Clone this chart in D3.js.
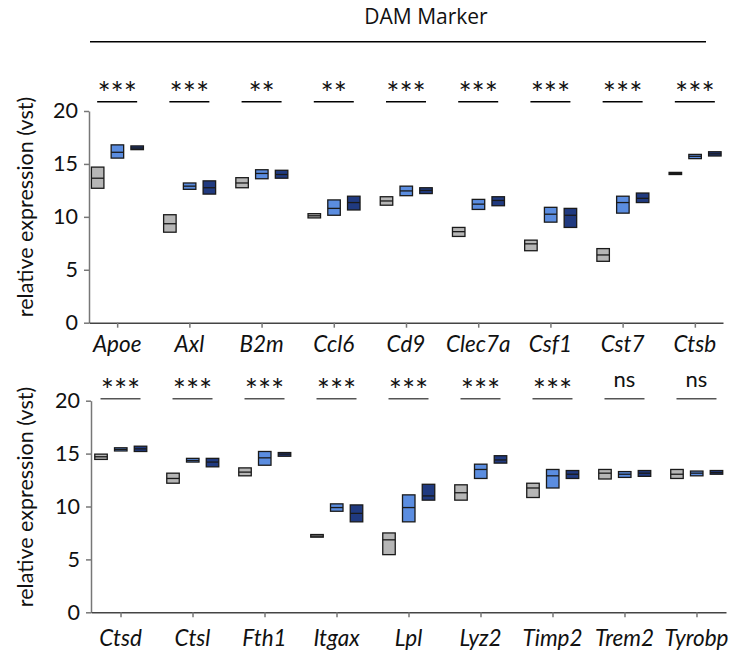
<!DOCTYPE html>
<html>
<head>
<meta charset="utf-8">
<script src="https://cdn.jsdelivr.net/npm/d3@7"></script>
<style>
  body { margin: 0; background: #fff; }
  svg { font-family: Lato, "Open Sans", sans-serif; }
</style>
</head>
<body>
<script>
// values are [min, median, max] per gene
const topGenes = ['Apoe', 'Axl', 'B2m', 'Ccl6', 'Cd9', 'Clec7a', 'Csf1', 'Cst7', 'Ctsb']
const topSig = ['***', '***', '**', '**', '***', '***', '***', '***', '***']
const topCtrl = [[12.7, 13.65, 14.7], [8.55, 9.35, 10.2], [12.75, 13.2, 13.7], [9.9, 10.1, 10.3], [11.1, 11.5, 11.9],
  [8.15, 8.6, 9.0], [6.8, 7.45, 7.8], [5.8, 6.4, 7.0], [14.0, 14.1, 14.2]]
const topMid = [[15.55, 16.1, 16.8], [12.6, 12.9, 13.2], [13.6, 14.1, 14.45], [10.15, 10.8, 11.6], [12.0, 12.45, 12.9],
  [10.7, 11.2, 11.65], [9.5, 10.25, 10.9], [10.35, 11.35, 11.95], [15.5, 15.72, 15.9]]
const topHigh = [[16.35, 16.5, 16.7], [12.15, 12.75, 13.4], [13.65, 14.0, 14.4], [10.65, 11.35, 11.95], [12.2, 12.5, 12.75],
  [11.05, 11.55, 11.9], [9.0, 10.15, 10.8], [11.35, 11.75, 12.25], [15.75, 15.95, 16.15]]

const bottomGenes = ['Ctsd', 'Ctsl', 'Fth1', 'Itgax', 'Lpl', 'Lyz2', 'Timp2', 'Trem2', 'Tyrobp']
const bottomSig = ['***', '***', '***', '***', '***', '***', '***', 'ns', 'ns']
const bottomCtrl = [[14.45, 14.7, 14.95], [12.2, 12.65, 13.15], [12.9, 13.25, 13.65], [7.1, 7.2, 7.35], [5.45, 6.85, 7.5],
  [10.6, 11.3, 12.05], [10.85, 11.75, 12.2], [12.6, 13.15, 13.5], [12.65, 13.05, 13.5]]
const bottomMid = [[15.25, 15.4, 15.55], [14.2, 14.35, 14.55], [13.9, 14.6, 15.2], [9.55, 9.9, 10.25], [8.55, 9.9, 11.1],
  [12.65, 13.5, 14.0], [11.75, 12.9, 13.5], [12.75, 13.05, 13.3], [12.9, 13.15, 13.35]]
const bottomHigh = [[15.2, 15.45, 15.7], [13.75, 14.2, 14.55], [14.75, 14.95, 15.1], [8.55, 9.35, 10.15], [10.6, 11.0, 12.1],
  [14.1, 14.4, 14.8], [12.65, 13.05, 13.4], [12.85, 13.15, 13.4], [13.05, 13.2, 13.4]]

const yTicks = [0, 5, 10, 15, 20]
const groups = ['ctrl', 'mid', 'high']
const groupColors = ['#b6b6b6', '#5b8de0', '#203a80']

var w = 744
var h = 656
var boxW = 12.5

var svg = d3.select('body')
  .append('svg')
  .attr('width', w)
  .attr('height', h)

svg.append('text')
  .attr('x', 426)
  .attr('y', 24)
  .attr('text-anchor', 'middle')
  .style('font-family', '"Open Sans", sans-serif')
  .style('font-size', '21px')
  .attr('fill', '#111')
  .text('DAM Marker')

svg.append('line')
  .attr('x1', 90).attr('x2', 706)
  .attr('y1', 41.7).attr('y2', 41.7)
  .attr('stroke', '#000')
  .attr('stroke-width', 1.5)

function drawPanel(opts) {
  const { genes, sig, series, left, right, top, bottom, padding, sigY, lineY, labelY, titleY, lineColor } = opts

  const xScale = d3.scalePoint()
    .domain(genes)
    .range([left, right])
    .padding(padding)

  const yScale = d3.scaleLinear()
    .domain([0, 20])
    .range([bottom, top])

  const offset = d3.scalePoint()
    .domain(groups)
    .range([-19.5, 20])

  const g = svg.append('g')

  // y axis
  const yAxis = d3.axisLeft(yScale)
    .tickValues(yTicks)
    .tickSize(5)
    .tickSizeOuter(0)
    .tickPadding(6)

  const ya = g.append('g')
    .attr('transform', 'translate(' + left + ',0)')
    .call(yAxis)
  ya.select('.domain').attr('stroke', '#777').attr('stroke-width', 1.5)
  ya.selectAll('.tick line').attr('stroke', '#777').attr('stroke-width', 1.5)
  ya.selectAll('.tick text')
    .style('font-family', 'Lato, sans-serif')
    .style('font-size', '21.5px')
    .attr('fill', '#111')

  // x axis
  const xAxis = d3.axisBottom(xScale)
    .tickSize(5)
    .tickSizeOuter(0)
    .tickFormat('')

  const xa = g.append('g')
    .attr('transform', 'translate(0,' + bottom + ')')
    .call(xAxis)
  xa.select('.domain').attr('stroke', '#444').attr('stroke-width', 1.5)
  xa.selectAll('.tick line').attr('stroke', '#777').attr('stroke-width', 1.5)

  g.selectAll('.gene-label')
    .data(genes)
    .enter()
    .append('text')
    .attr('class', 'gene-label')
    .attr('x', d => xScale(d))
    .attr('y', labelY)
    .attr('text-anchor', 'middle')
    .style('font-family', 'Lato, sans-serif')
    .style('font-style', 'italic')
    .style('font-size', '22.5px')
    .attr('fill', '#111')
    .text(d => d)

  // significance
  g.selectAll('.sig-line')
    .data(genes)
    .enter()
    .append('line')
    .attr('x1', d => xScale(d) - 20)
    .attr('x2', d => xScale(d) + 20)
    .attr('y1', lineY)
    .attr('y2', lineY)
    .attr('stroke', lineColor)
    .attr('stroke-width', 1.5)

  g.selectAll('.sig-text')
    .data(genes)
    .enter()
    .append('text')
    .attr('x', d => xScale(d))
    .attr('y', (d, i) => sig[i] === 'ns' ? sigY - 11 : sigY + 3)
    .attr('text-anchor', 'middle')
    .style('font-family', 'Lato, sans-serif')
    .style('font-size', (d, i) => sig[i] === 'ns' ? '22px' : '31px')
    .attr('fill', '#111')
    .text((d, i) => sig[i])

  // boxes
  series.forEach((vals, si) => {
    const grp = g.append('g')
    const rows = genes.map((gene, i) => ({ gene: gene, lo: vals[i][0], med: vals[i][1], hi: vals[i][2] }))

    grp.selectAll('rect')
      .data(rows)
      .enter()
      .append('rect')
      .attr('x', d => xScale(d.gene) + offset(groups[si]) - boxW / 2)
      .attr('y', d => yScale(d.hi))
      .attr('width', boxW)
      .attr('height', d => Math.max(yScale(d.lo) - yScale(d.hi), 1.5))
      .attr('fill', groupColors[si])
      .attr('stroke', '#1a1a1a')
      .attr('stroke-width', 1.3)

    grp.selectAll('line')
      .data(rows)
      .enter()
      .append('line')
      .attr('x1', d => xScale(d.gene) + offset(groups[si]) - boxW / 2)
      .attr('x2', d => xScale(d.gene) + offset(groups[si]) + boxW / 2)
      .attr('y1', d => yScale(d.med))
      .attr('y2', d => yScale(d.med))
      .attr('stroke', '#1a1a1a')
      .attr('stroke-width', 1.3)
  })

  svg.append('text')
    .attr('transform', 'rotate(-90)')
    .attr('x', -titleY)
    .attr('y', 33)
    .attr('text-anchor', 'middle')
    .style('font-family', 'Lato, sans-serif')
    .style('font-size', '21.5px')
    .attr('fill', '#111')
    .text('relative expression (vst)')
}

drawPanel({
  genes: topGenes, sig: topSig, series: [topCtrl, topMid, topHigh],
  left: 89, right: 723, top: 111, bottom: 322.7, padding: 0.39,
  sigY: 101, lineY: 101.7, labelY: 352, titleY: 207, lineColor: '#000'
})

drawPanel({
  genes: bottomGenes, sig: bottomSig, series: [bottomCtrl, bottomMid, bottomHigh],
  left: 91, right: 726, top: 400.7, bottom: 612.3, padding: 0.41,
  sigY: 398, lineY: 398.7, labelY: 645.5, titleY: 497, lineColor: '#555'
})
</script>
</body>
</html>
